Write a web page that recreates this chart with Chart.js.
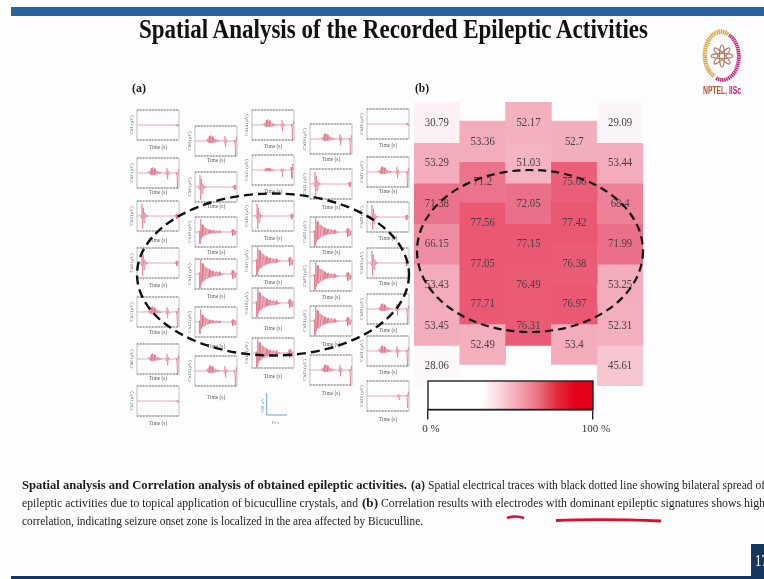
<!DOCTYPE html>
<html>
<head>
<meta charset="utf-8">
<title>Spatial Analysis of the Recorded Epileptic Activities</title>
<script src="https://cdn.jsdelivr.net/npm/chart.js"></script>
<style>
  html, body { margin: 0; padding: 0; background: #fdfcfe; }
  #slide { position: relative; width: 764px; height: 579px; overflow: hidden; filter: blur(0.55px); background: #fdfcfe; }
  #slide canvas { position: absolute; }
  #overlay { position: absolute; left: 0; top: 0; }
  #overlay text { font-family: "Liberation Serif", serif; fill: #1c1c1c; }
</style>
</head>
<body>
<div id="slide">
  <svg id="overlay" width="764" height="579" style="z-index:5">
    <rect x="11" y="7" width="753" height="9" fill="#27649f"/>
    <rect x="11" y="576" width="753" height="3" fill="#17375e"/>
    <rect x="751" y="544" width="13" height="32" fill="#17375e"/>
    <text x="755" y="566" textLength="13" lengthAdjust="spacingAndGlyphs" style="font-size:17px;fill:#fff">17</text>

    <text x="139" y="38" textLength="509" lengthAdjust="spacingAndGlyphs" style="font-size:27px;font-weight:bold;fill:#111">Spatial Analysis of the Recorded Epileptic Activities</text>
    <text x="132" y="92" textLength="14" lengthAdjust="spacingAndGlyphs" style="font-size:12px;font-weight:bold">(a)</text>
    <text x="415" y="92" textLength="14" lengthAdjust="spacingAndGlyphs" style="font-size:12px;font-weight:bold">(b)</text>

    <!-- logo -->
    <path d="M728 34 A16 23 0 0 0 714 76" fill="none" stroke="#d9a84e" stroke-width="4.5" stroke-dasharray="1.5 .6"/>
    <path d="M729 35 A16 23 0 0 1 716 78" fill="none" stroke="#c2287c" stroke-width="3.8" stroke-dasharray="1.5 .6"/>
    <g fill="none" stroke="#b9806c" stroke-width="1.1">
      <ellipse cx="722" cy="56" rx="2.6" ry="11"/>
      <ellipse cx="722" cy="56" rx="2.6" ry="11" transform="rotate(45 722 56)"/>
      <ellipse cx="722" cy="56" rx="2.6" ry="11" transform="rotate(90 722 56)"/>
      <ellipse cx="722" cy="56" rx="2.6" ry="11" transform="rotate(135 722 56)"/>
    </g>
    <text x="703" y="94" textLength="38" lengthAdjust="spacingAndGlyphs" style="font-family:'Liberation Sans';font-size:10px;font-weight:bold;fill:#b5562e">NPTEL, <tspan style="fill:#b81e78">IISc</tspan></text>

    <!-- scale bar -->
    <path d="M266.7 393 V415 H287" fill="none" stroke="#6aa3d8" stroke-width="1"/>
    <text transform="translate(263.5 413) rotate(-90)" style="font-size:5px;fill:#5b94c9">500 μV</text>
    <text x="271" y="424" style="font-size:5px;fill:#5b94c9">10 s</text>

    <!-- dashed outlines -->
    <ellipse cx="273" cy="274.5" rx="136" ry="81" fill="none" stroke="#111" stroke-width="2.4" stroke-dasharray="9 5"/>
    <ellipse cx="530" cy="251" rx="113" ry="81" fill="none" stroke="#111" stroke-width="2.2" stroke-dasharray="8 5"/>

    <!-- caption -->
    <g style="font-size:13.5px">
      <text x="22" y="489" textLength="385" lengthAdjust="spacingAndGlyphs" style="font-weight:bold">Spatial analysis and Correlation analysis of obtained epileptic activities.</text>
      <text x="411" y="489" textLength="14" lengthAdjust="spacingAndGlyphs" style="font-weight:bold">(a)</text>
      <text x="428" y="489" textLength="337" lengthAdjust="spacingAndGlyphs">Spatial electrical traces with black dotted line showing bilateral spread of</text>
      <text x="22" y="507" textLength="336" lengthAdjust="spacingAndGlyphs">epileptic activities due to topical application of bicuculline crystals, and</text>
      <text x="362" y="507" textLength="16" lengthAdjust="spacingAndGlyphs" style="font-weight:bold">(b)</text>
      <text x="381" y="507" textLength="384" lengthAdjust="spacingAndGlyphs">Correlation results with electrodes with dominant epileptic signatures shows high</text>
      <text x="22" y="525" textLength="401" lengthAdjust="spacingAndGlyphs">correlation, indicating seizure onset zone is localized in the area affected by Bicuculline.</text>
    </g>
    <!-- pen marks -->
    <path d="M507 518 Q515 515 524 518" fill="none" stroke="#d8102c" stroke-width="2.6"/>
    <path d="M556 520.5 Q600 518.5 661 521" fill="none" stroke="#d8102c" stroke-width="2.8"/>
  </svg>
</div>

<script>
// correlation values per electrode column, top to bottom (null = empty cell)
var col1Values = [30.79, 53.29, 71.38, 66.15, 53.43, 53.45, 28.06];
var col2Values = [53.36, 71.2, 77.56, 77.05, 77.71, 52.49];
var col3Values = [52.17, 51.03, 72.05, 77.15, 76.49, 76.31, null];
var col4Values = [52.7, 75.66, 77.42, 76.38, 76.97, 53.4];
var col5Values = [29.09, 53.44, 68.4, 71.99, 53.25, 52.31, 45.61];
var heatColumns = [col1Values, col2Values, col3Values, col4Values, col5Values];
var columnNames = ['A', 'B', 'C', 'D', 'E'];
var columnOffset = [0, 0.47, 0, 0.47, 0]; // even columns sit half a row lower

// recorded traces (normalised to the panel height)
var traceQuiet = [0,0,0,0,0,0,0,0,0,0,0,0,0,0,0,0,0,0,0,0,0,0,0,0,0,0,0,0,0,0,0,0,0,0,0,0,0,0,0,0,0,0,0,0,0,0,0,0,0,0,0,0,0,0,0,0.02,-0.05,0.08,-0.12,0];
var traceLate = [0,0,0,0,0,0,0,0,0,0,0,0,0,0,0,0,0,0,0,0,0,0,0,0,0,0,0,0,0,0,0,0,0,0,0,0,0,0,0,0,0,0,0.03,-0.05,0.1,-0.25,0.08,0,0,0,0,0,0,0,0,0,0.1,-0.8,0.3,0];
var traceBurst = [0,0,0,0,0,0,0,0,0,0,0,0,0,0,0,0,0.08,-0.05,0.15,-0.1,0.32,-0.14,0.38,-0.1,0.3,-0.12,0.24,-0.08,0.15,-0.08,0.1,-0.06,0.08,-0.05,0.03,0,0,0,0,0,0.05,-0.1,0.32,-0.42,0.12,-0.05,0,0,0,0,0,0,0,0,0.02,0.05,-0.1,-1,0.25,0];
var traceBurstLow = [0,0,0,0,0,0,0,0,0,0,0,0,0,0,0,0,0.03,-0.03,0.08,-0.06,0.14,-0.08,0.12,-0.06,0.14,-0.08,0.1,-0.06,0.08,-0.05,0.05,-0.03,0,0,0,0,0,0,0,0,0.03,-0.08,0.1,-0.45,0.08,0,0,0,0,0,0,0,0,0,0,0.2,-0.55,0.4,0.05,0];
var traceOnset = [0,0,0,0,0,0.08,-0.15,0.8,-0.85,0.55,-0.45,0.22,-0.12,0.05,-0.03,0,0,0,0,0,0,0,0,0,0,0,0,0,0,0,0,0,0,0,0,0,0,0,0,0,0,0,0,0,0,0,0,0,0,0,0,0,0,0.03,-0.05,0.12,-0.2,0.15,-0.03,0];
var traceSeizure = [0,0,0,0,0,0,0.1,-0.95,0.95,-0.7,0.72,-0.5,0.66,-0.42,0.5,-0.34,0.44,-0.3,0.38,-0.24,0.3,-0.22,0.25,-0.18,0.2,-0.15,0.22,-0.14,0.15,-0.12,0.18,-0.14,0.12,-0.1,0.16,-0.11,0.09,-0.06,0.04,-0.03,0,0,0,0,0,0,0,0,0,0,0.03,-0.05,0.22,-0.32,0.28,-0.22,0.16,-0.24,0.06,0];
var traceSeizureLow = [0,0,0,0,0,0,0.08,-0.8,0.85,-0.45,0.5,-0.3,0.42,-0.25,0.3,-0.2,0.26,-0.16,0.2,-0.12,0.15,-0.1,0.12,-0.08,0.1,-0.07,0.12,-0.08,0.09,-0.06,0.1,-0.07,0.07,-0.05,0.08,-0.05,0.04,-0.03,0.02,0,0,0,0,0,0,0,0,0,0,0,0.02,-0.04,0.15,-0.25,0.2,-0.18,0.12,-0.18,0.04,0];

// which trace each panel of (a) shows, column by column
var panelTraces = [
  [traceQuiet, traceBurst, traceOnset, traceOnset, traceBurst, traceBurst, traceQuiet],
  [traceBurst, traceOnset, traceSeizureLow, traceSeizure, traceSeizureLow, traceBurst],
  [traceBurst, traceBurstLow, traceOnset, traceSeizure, traceSeizure, traceSeizure],
  [traceBurst, traceOnset, traceSeizure, traceSeizure, traceSeizure, traceBurst],
  [traceQuiet, traceBurst, traceOnset, traceOnset, traceBurst, traceBurst, traceLate]
];
var channelNames = [
  ['Ch1', 'Ch2', 'Ch3', 'Ch4', 'Ch5', 'Ch6', 'Ch7'],
  ['Ch8', 'Ch9', 'Ch10', 'Ch11', 'Ch12', 'Ch13'],
  ['Ch14', 'Ch15', 'Ch16', 'Ch17', 'Ch18', 'Ch19'],
  ['Ch20', 'Ch21', 'Ch22', 'Ch23', 'Ch24', 'Ch25'],
  ['Ch26', 'Ch27', 'Ch28', 'Ch29', 'Ch30', 'Ch31', 'Ch32']
];

// panel placement on the slide
var panelLeft = [137, 195, 252, 310, 367];
var panelTop = [
  [110, 158, 201, 248, 297, 344, 386],
  [126, 172, 217, 259, 307, 356],
  [110, 155, 201, 246, 288, 338],
  [124, 169, 217, 261, 306, 355],
  [109, 157, 202, 248, 294, 336, 381]
];
var timeLabelY = [
  [148, 193, 241, 286, 333, 379, 424],
  [161, 207, 253, 297, 347, 398],
  [147, 192, 239, 283, 329, 377],
  [160, 208, 253, 298, 345, 394],
  [146, 192, 239, 284, 331, 373, 420]
];

var slide = document.getElementById('slide');

function addCanvas(left, top, w, h) {
  var c = document.createElement('canvas');
  c.width = w;
  c.height = h;
  c.style.left = left + 'px';
  c.style.top = top + 'px';
  c.style.width = w + 'px';
  c.style.height = h + 'px';
  slide.appendChild(c);
  return c.getContext('2d');
}

// plot frame of the small panels, dotted along top and bottom like the figure
var panelFrame = {
  id: 'panelFrame',
  afterDatasetsDraw: function (chart) {
    var a = chart.chartArea, ctx = chart.ctx;
    ctx.save();
    ctx.lineWidth = 0.7;
    ctx.strokeStyle = '#a8a8a8';
    ctx.strokeRect(a.left, a.top, a.right - a.left, a.bottom - a.top);
    ctx.strokeStyle = '#555';
    ctx.setLineDash([1.5, 1.5]);
    ctx.beginPath();
    ctx.moveTo(a.left, a.top); ctx.lineTo(a.right, a.top);
    ctx.moveTo(a.left, a.bottom); ctx.lineTo(a.right, a.bottom);
    ctx.stroke();
    ctx.restore();
  }
};

panelTraces.forEach(function (column, c) {
  column.forEach(function (trace, r) {
    var w = 42, h = 30, pad = 2, leftGutter = 8;
    var below = timeLabelY[c][r] - (panelTop[c][r] + h) + 3;
    var ctx = addCanvas(panelLeft[c] - leftGutter, panelTop[c][r] - pad, w + leftGutter + pad, pad + h + below + pad);
    new Chart(ctx, {
      type: 'line',
      data: {
        labels: trace.map(function (v, i) { return i; }),
        datasets: [{ data: trace, borderColor: '#de6a80', borderWidth: 0.6, pointRadius: 0, tension: 0 }]
      },
      options: {
        responsive: false,
        animation: false,
        events: [],
        layout: { padding: { top: pad, right: pad, bottom: pad, left: 0 } },
        plugins: { legend: { display: false }, tooltip: { enabled: false } },
        scales: {
          x: {
            grid: { display: false }, border: { display: false }, ticks: { display: false },
            title: { display: true, text: 'Time (s)', color: '#666', padding: 0, font: { family: 'Liberation Serif', size: 5.5 } },
            afterFit: function (s) { s.height = below; }
          },
          y: {
            min: -1, max: 1,
            grid: { display: false }, border: { display: false }, ticks: { display: false },
            title: { display: true, text: channelNames[c][r] + ' (μV)', color: '#666', padding: 0, font: { family: 'Liberation Serif', size: 5 } },
            afterFit: function (s) { s.width = leftGutter; }
          }
        }
      },
      plugins: [panelFrame]
    });
  });
});

// value to cell colour, sampled from the figure's cells
var heatStops = [[28, [253, 249, 251]], [45, [246, 200, 211]], [53, [243, 173, 188]], [66, [238, 141, 162]], [72, [234, 111, 137]], [77, [234, 88, 115]]];

function heatColor(v) {
  if (v === null || v === undefined) return 'rgba(0,0,0,0)';
  for (var i = 1; i < heatStops.length; i++) {
    if (v <= heatStops[i][0]) {
      var a = heatStops[i - 1], b = heatStops[i];
      var t = Math.max(0, (v - a[0]) / (b[0] - a[0]));
      return 'rgb(' + a[1].map(function (x, k) { return Math.round(x + (b[1][k] - x) * t); }).join(',') + ')';
    }
  }
  return 'rgb(234,88,115)';
}

// one dataset per row, each cell a floating bar on the y scale
var heatDatasets = [];
for (var row = 0; row < 7; row++) {
  heatDatasets.push({
    values: heatColumns.map(function (col) { return col[row]; }),
    data: heatColumns.map(function (col, c) {
      return col[row] === undefined || col[row] === null ? null : [columnOffset[c] + row, columnOffset[c] + row + 1];
    }),
    backgroundColor: heatColumns.map(function (col) { return heatColor(col[row]); }),
    barPercentage: 1,
    categoryPercentage: 1,
    grouped: false,
    borderWidth: 0
  });
}

var cellLabels = {
  id: 'cellLabels',
  afterDatasetsDraw: function (chart) {
    var ctx = chart.ctx;
    ctx.save();
    ctx.font = '12.5px "Liberation Serif"';
    ctx.textAlign = 'center';
    ctx.textBaseline = 'middle';
    ctx.fillStyle = '#4a3f42';
    chart.data.datasets.forEach(function (ds, d) {
      chart.getDatasetMeta(d).data.forEach(function (bar, i) {
        var v = ds.values[i];
        if (v === null || v === undefined) return;
        var p = bar.getProps(['x', 'y', 'base'], true);
        ctx.save();
        ctx.translate(p.x, (p.y + p.base) / 2);
        ctx.scale(0.86, 1.05);
        ctx.fillText(String(v), 0, 0);
        ctx.restore();
      });
    });
    ctx.restore();
  }
};

new Chart(addCanvas(414, 102, 229, 284), {
  type: 'bar',
  data: { labels: columnNames, datasets: heatDatasets },
  options: {
    responsive: false,
    animation: false,
    events: [],
    plugins: { legend: { display: false }, tooltip: { enabled: false } },
    scales: {
      x: { display: false },
      y: { display: false, reverse: true, min: 0, max: 7 }
    }
  },
  plugins: [cellLabels]
});

// colour bar with its own 0-100 % scale
var barLabels = ['scale'];
var barValues = [100];
var barStops = [[0, '#ffffff'], [0.32, '#ffffff'], [0.42, '#fbdde2'], [0.56, '#f2a0ad'], [0.68, '#ec6a7c'], [0.78, '#e22a3e'], [0.9, '#e2001a'], [1, '#e2001a']];

var barCtx = addCanvas(414, 378, 210, 60);
new Chart(barCtx, {
  type: 'bar',
  data: {
    labels: barLabels,
    datasets: [{
      data: barValues,
      barPercentage: 1,
      categoryPercentage: 1,
      borderWidth: 0,
      backgroundColor: function (context) {
        var a = context.chart.chartArea;
        if (!a) return '#fff';
        var g = barCtx.createLinearGradient(a.left, 0, a.right, 0);
        barStops.forEach(function (s) { g.addColorStop(s[0], s[1]); });
        return g;
      }
    }]
  },
  options: {
    indexAxis: 'y',
    responsive: false,
    animation: false,
    events: [],
    layout: { padding: { left: 14, right: 31, top: 3, bottom: 0 } },
    plugins: { legend: { display: false }, tooltip: { enabled: false } },
    scales: {
      x: {
        min: 0, max: 100,
        grid: { drawOnChartArea: false, drawTicks: true, tickLength: 10, color: '#222', lineWidth: 1.4 },
        border: { color: '#222', width: 1.4 },
        ticks: {
          stepSize: 100, maxRotation: 0, padding: 3, labelOffset: 3, color: '#333',
          font: { family: 'Liberation Serif', size: 11 },
          callback: function (v) { return v + ' %'; }
        }
      },
      y: { display: false }
    }
  },
  plugins: [{
    id: 'barFrame',
    afterDraw: function (chart) {
      var a = chart.chartArea, ctx = chart.ctx;
      ctx.save();
      ctx.lineWidth = 1.4;
      ctx.strokeStyle = '#222';
      ctx.strokeRect(a.left, a.top, a.right - a.left, a.bottom - a.top);
      ctx.restore();
    }
  }]
});
</script>
</body>
</html>
